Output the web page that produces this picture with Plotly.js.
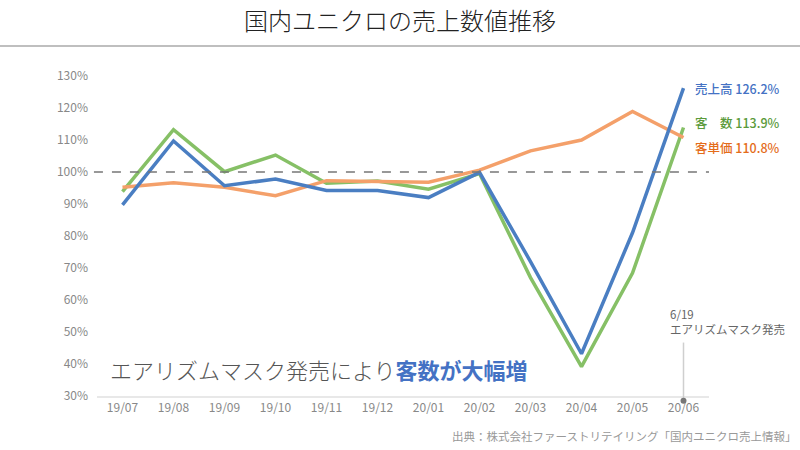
<!DOCTYPE html>
<html><head><meta charset="utf-8">
<script src="https://cdn.plot.ly/plotly-3.0.1.min.js"></script>
<style>html,body{margin:0;padding:0;background:#fff;}#chart{width:800px;height:450px;}</style>
</head><body><div id="chart"></div>
<script>
var months = ["19/07","19/08","19/09","19/10","19/11","19/12","20/01","20/02","20/03","20/04","20/05","20/06"];
var sales     = [89.7, 109.7, 95.7, 97.8, 94.2, 94.2, 92.0, 99.9, 72.0, 43.2, 81.0, 126.2];
var customers = [93.9, 113.2, 100.1, 105.3, 96.5, 97.2, 94.6, 99.5, 67.0, 39.2, 68.4, 113.9];
var unitPrice = [95.2, 96.6, 95.2, 92.6, 97.3, 97.0, 96.8, 100.6, 106.6, 110.0, 118.9, 110.8];
var yTicks = [30,40,50,60,70,80,90,100,110,120,130];

var F = '"Noto Sans CJK JP", "Noto Sans", sans-serif';
var cBlue = '#4a7ec2', cGreen = '#86c066', cOrange = '#f4a06a';

var traces = [
  {x: months, y: customers, type:'scatter', mode:'lines', line:{color:cGreen, width:3.5}, name:'客数'},
  {x: months, y: unitPrice, type:'scatter', mode:'lines', line:{color:cOrange, width:3.5}, name:'客単価'},
  {x: months, y: sales, type:'scatter', mode:'lines', line:{color:cBlue, width:3.5}, name:'売上高'}
];

var last = months.length - 1;
var layout = {
  width: 800, height: 450,
  paper_bgcolor: '#fff', plot_bgcolor: '#fff',
  margin: {l: 97, r: 91, t: 76, b: 54},
  showlegend: false,
  font: {family: F, color: '#888'},
  title: {text: '国内ユニクロの売上数値推移', font: {family: F, size: 24, color: '#222', weight: 300}, x: 0.5, xanchor: 'center', y: 0.952, yanchor: 'middle'},
  xaxis: {type: 'category', range: [-0.5, 11.5], showgrid: false, zeroline: false, showline: true, linecolor: '#e8e8e8', linewidth: 1.5,
          ticks: '', tickfont: {family: F, size: 12, color: '#888'}, fixedrange: true},
  yaxis: {range: [30, 130], tickvals: yTicks, ticktext: yTicks.map(function(v){return v + '%';}), showgrid: false, zeroline: false,
          showline: false, ticks: '', ticklabelstandoff: 8, tickfont: {family: F, size: 12, color: '#888'}, fixedrange: true},
  shapes: [
    {type: 'line', xref: 'paper', yref: 'paper', x0: -0.2, x1: 1.2, y0: 1.094, y1: 1.094, line: {color: '#aaa', width: 1.5}},
    {type: 'line', xref: 'paper', yref: 'y', x0: -0.005, x1: 1.0, y0: 100, y1: 100, line: {color: '#777', width: 1.5, dash: 'dash'}},
    {type: 'line', xref: 'x', yref: 'paper', x0: months[last], x1: months[last], y0: 0.167, y1: -0.015, line: {color: '#cfcfcf', width: 1.5}},
    {type: 'circle', xref: 'x', yref: 'paper', xsizemode: 'pixel', ysizemode: 'pixel', xanchor: months[last], yanchor: -0.015,
     x0: -3, x1: 3, y0: -3, y1: 3, fillcolor: '#777', line: {width: 0}}
  ],
  annotations: [
    {xref: 'x', yref: 'y', x: months[last], y: sales[last], xshift: 9, xanchor: 'left', yanchor: 'middle', showarrow: false,
     text: '売上高 ' + sales[last].toFixed(1) + '%', font: {family: F, size: 12.5, color: '#4472c4', weight: 500}},
    {xref: 'x', yref: 'y', x: months[last], y: customers[last], xshift: 9, yshift: 5, xanchor: 'left', yanchor: 'middle', showarrow: false,
     text: '客　数 ' + customers[last].toFixed(1) + '%', font: {family: F, size: 12.5, color: '#5a9a3a', weight: 500}},
    {xref: 'x', yref: 'y', x: months[last], y: unitPrice[last], xshift: 9, yshift: -10, xanchor: 'left', yanchor: 'middle', showarrow: false,
     text: '客単価 ' + unitPrice[last].toFixed(1) + '%', font: {family: F, size: 12.5, color: '#e46c1a', weight: 500}},
    {xref: 'x', yref: 'paper', x: months[last], y: 0.255, xshift: -16, xanchor: 'left', yanchor: 'middle', align: 'left', showarrow: false,
     text: '6/19', font: {family: F, size: 11.5, color: '#666'}},
    {xref: 'x', yref: 'paper', x: months[last], y: 0.208, xshift: -16, xanchor: 'left', yanchor: 'middle', align: 'left', showarrow: false,
     text: 'エアリズムマスク発売', font: {family: F, size: 11.5, color: '#666'}},
    {xref: 'paper', yref: 'paper', x: 0.018, y: 0.085, xanchor: 'left', yanchor: 'middle', showarrow: false,
     text: 'エアリズムマスク発売により<b><span style="color:#4472c4">客数が大幅増</span></b>', font: {family: F, size: 22, color: '#555', weight: 300}},
    {xref: 'paper', yref: 'paper', x: 1.146, y: -0.125, xanchor: 'right', yanchor: 'middle', showarrow: false,
     text: '出典：株式会社ファーストリテイリング「国内ユニクロ売上情報」', font: {family: F, size: 11.5, color: '#999'}}
  ]
};
Plotly.newPlot('chart', traces, layout, {displayModeBar: false, staticPlot: true});
</script></body></html>
